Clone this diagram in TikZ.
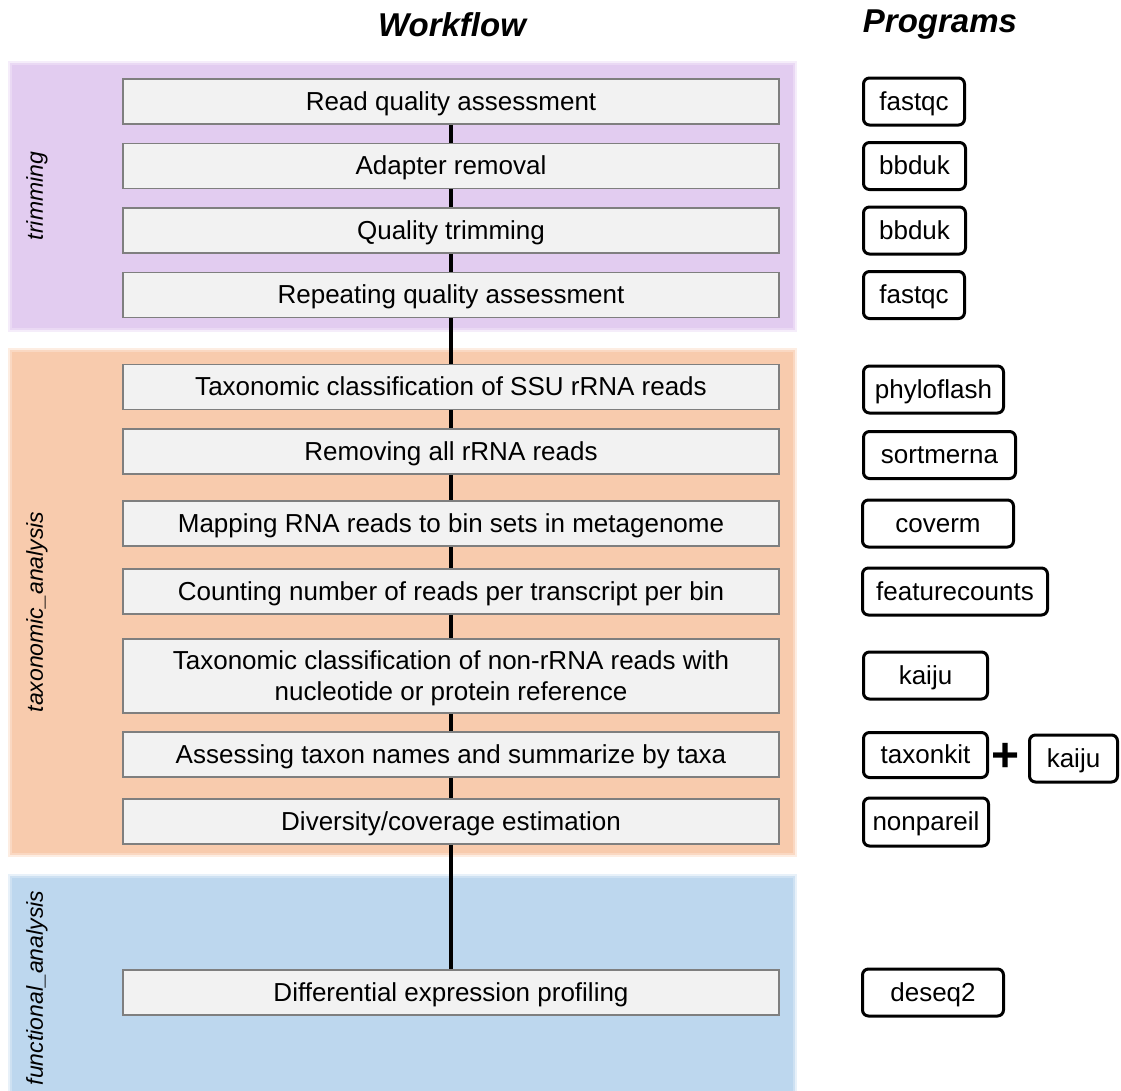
\documentclass[tikz,border=0pt]{standalone}
\usepackage{fontspec}
\setmainfont{Liberation Sans}
\definecolor{trimc}{HTML}{E2CCF0}
\definecolor{taxc}{HTML}{F8CBAD}
\definecolor{funcc}{HTML}{BDD7EE}
\definecolor{boxfill}{HTML}{F2F2F2}
\definecolor{boxline}{HTML}{7F7F7F}
\begin{document}
\begin{tikzpicture}[x=1pt,y=-1pt,
  stepbox/.style={draw=boxline, line width=1.8pt, fill=boxfill, minimum width=656pt, minimum height=45pt, inner sep=0pt, text height=23pt, text depth=5.5pt, font=\fontsize{26}{31}\selectfont},
  progbox/.style={draw=black, line width=3pt, rounded corners=6pt, fill=white, minimum height=47pt, inner sep=0pt, anchor=west, text height=23pt, text depth=5.5pt, font=\fontsize{26}{31}\selectfont},
  flow/.style={line width=3.6pt, black},
  header/.style={font=\fontsize{33}{40}\selectfont\bfseries\itshape},
  bandlabel/.style={rotate=90, font=\fontsize{23}{28}\selectfont\itshape}
]
\useasboundingbox (0,0) rectangle (1121,1090);
% bands with soft edges
\foreach \c/\t/\b in {trimc/65/328, taxc/352/853, funcc/878/1096}{
  \fill[\c, opacity=0.35] (8,\t-4) rectangle (797,\b+4);
  \fill[\c, opacity=0.6] (10,\t-2) rectangle (795,\b+2);
  \fill[\c] (12,\t) rectangle (793,\b);
}
\node[bandlabel] (ltrim) at (37,196) {trimming};
\node[bandlabel] (ltax) at (37,612) {taxonomic\_analysis};
\node[bandlabel] (lfunc) at (37,988) {functional\_analysis};

% headers
\node[header] (hw) at (452,25) {Workflow};
\node[header] (hp) at (940,25) {Programs};

% workflow steps
\node[stepbox] (s1) at (451,101.5) {Read quality assessment};
\node[stepbox] (s2) at (451,166) {Adapter removal};
\node[stepbox] (s3) at (451,230.5) {Quality trimming};
\node[stepbox] (s4) at (451,295) {Repeating quality assessment};
\node[stepbox] (s5) at (451,387) {Taxonomic classification of SSU rRNA reads};
\node[stepbox] (s6) at (451,451.5) {Removing all rRNA reads};
\node[stepbox] (s7) at (451,523.5) {Mapping RNA reads to bin sets in metagenome};
\node[stepbox] (s8) at (451,591.5) {Counting number of reads per transcript per bin};
\node[stepbox, minimum height=74pt] (s9) at (451,676) {};
\node[align=center, inner sep=0pt, font=\fontsize{26}{31}\selectfont] (s9t) at (451,678.5) {Taxonomic classification of non-rRNA reads with\\nucleotide or protein reference};
\node[stepbox] (s10) at (451,754.5) {Assessing taxon names and summarize by taxa};
\node[stepbox] (s11) at (451,821.5) {Diversity/coverage estimation};
\node[stepbox] (s12) at (451,992.5) {Differential expression profiling};

\foreach \a/\b in {s1/s2, s2/s3, s3/s4, s4/s5, s5/s6, s6/s7, s7/s8, s8/s9, s9/s10, s10/s11, s11/s12}{
  \draw[flow] (\a.south) -- (\b.north);
}

% programs
\node[progbox, minimum width=101pt] (p1) at (862,101.5) {fastqc};
\node[progbox, minimum width=102pt] (p2) at (862,166) {bbduk};
\node[progbox, minimum width=102pt] (p3) at (862,230.5) {bbduk};
\node[progbox, minimum width=101pt] (p4) at (862,295) {fastqc};
\node[progbox, minimum width=140pt] (p5) at (862,389.5) {phyloflash};
\node[progbox, minimum width=152pt] (p6) at (862,455) {sortmerna};
\node[progbox, minimum width=151pt] (p7) at (861,523.5) {coverm};
\node[progbox, minimum width=185pt] (p8) at (861,591.5) {featurecounts};
\node[progbox, minimum width=124pt] (p9) at (862,675.5) {kaiju};
\node[progbox, minimum width=124pt, minimum height=45pt] (p10) at (862,755) {taxonkit};
\node[font=\fontsize{48}{48}\selectfont\bfseries, inner sep=0pt] (plus) at (1006,757) {+};
\node[progbox, minimum width=88pt] (p11) at (1028,758.5) {kaiju};
\node[progbox, minimum width=125pt, minimum height=48pt] (p12) at (862,822) {nonpareil};
\node[progbox, minimum width=141pt] (p13) at (861,992.5) {deseq2};
\end{tikzpicture}
\end{document}
